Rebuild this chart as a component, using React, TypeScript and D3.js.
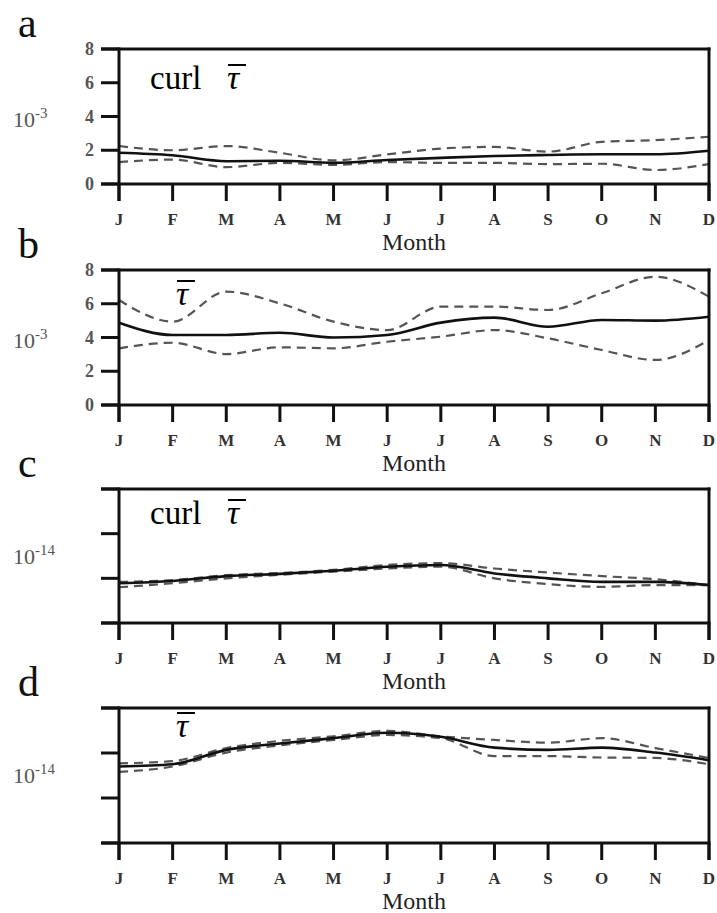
import React from "react";
import * as d3 from "d3";

const months = ["J", "F", "M", "A", "M", "J", "J", "A", "S", "O", "N", "D"];

// Panel a: curl tau, 10^-3
const aMean = [1.85, 1.7, 1.35, 1.38, 1.25, 1.42, 1.55, 1.66, 1.72, 1.76, 1.76, 1.97];
const aUpper = [2.25, 2.0, 2.25, 1.85, 1.4, 1.75, 2.1, 2.2, 1.92, 2.5, 2.6, 2.8];
const aLower = [1.3, 1.45, 1.0, 1.25, 1.13, 1.3, 1.25, 1.25, 1.18, 1.2, 0.83, 1.18];

// Panel b: tau, 10^-3
const bMean = [4.88, 4.15, 4.15, 4.28, 4.0, 4.15, 4.88, 5.18, 4.64, 5.04, 5.0, 5.23];
const bUpper = [6.22, 4.94, 6.72, 6.02, 4.94, 4.44, 5.83, 5.83, 5.63, 6.62, 7.6, 6.42];
const bLower = [3.36, 3.69, 3.02, 3.42, 3.36, 3.75, 4.05, 4.44, 3.95, 3.26, 2.67, 3.85];

// Panel c: curl tau, 10^-14 (relative units)
const cMean = [0.89, 0.94, 1.05, 1.1, 1.17, 1.26, 1.3, 1.11, 1.0, 0.92, 0.92, 0.85];
const cUpper = [0.92, 0.96, 1.07, 1.12, 1.19, 1.3, 1.34, 1.22, 1.13, 1.05, 0.98, 0.85];
const cLower = [0.8, 0.89, 1.0, 1.08, 1.15, 1.22, 1.26, 1.0, 0.87, 0.81, 0.85, 0.85];

// Panel d: tau, 10^-14 (relative units)
const dMean = [1.7, 1.75, 2.07, 2.21, 2.33, 2.45, 2.36, 2.12, 2.07, 2.12, 2.01, 1.84];
const dUpper = [1.77, 1.82, 2.11, 2.27, 2.37, 2.49, 2.37, 2.29, 2.23, 2.33, 2.11, 1.89];
const dLower = [1.58, 1.7, 2.01, 2.17, 2.29, 2.4, 2.33, 1.93, 1.93, 1.9, 1.89, 1.75];

const ticks3 = [0, 2, 4, 6, 8];
const tickLabels3 = ["0", "2", "4", "6", "8"];
const ticks14 = [0, 1, 2, 3];

const panels = [
  { letter: "a", top: 49, bottom: 184, domain: [0, 8], ticks: ticks3, labels: tickLabels3, exp: "-3", expTick: 4, curl: true, mean: aMean, upper: aUpper, lower: aLower, titleOff: 40 },
  { letter: "b", top: 270, bottom: 405, domain: [0, 8], ticks: ticks3, labels: tickLabels3, exp: "-3", expTick: 4, curl: false, mean: bMean, upper: bUpper, lower: bLower, titleOff: 35 },
  { letter: "c", top: 489, bottom: 623, domain: [0, 3], ticks: ticks14, labels: null, exp: "-14", expTick: 1.55, curl: true, mean: cMean, upper: cUpper, lower: cLower, titleOff: 35 },
  { letter: "d", top: 708, bottom: 843, domain: [0, 3], ticks: ticks14, labels: null, exp: "-14", expTick: 1.55, curl: false, mean: dMean, upper: dUpper, lower: dLower, titleOff: 29 },
];

const X0 = 119;
const X1 = 709;
const TICK_LEFT = 101;
const serif = "Liberation Serif, Times New Roman, serif";

function Panel({ p }: { p: any }) {
  const x = d3.scaleLinear().domain([0, months.length - 1]).range([X0, X1]);
  const y = d3.scaleLinear().domain(p.domain).range([p.bottom, p.top]);
  const line = d3
    .line<number>()
    .x((_, i) => x(i))
    .y((v) => y(v))
    .curve(d3.curveMonotoneX);
  const titleBase = p.top + p.titleOff;
  const tauX = p.curl ? 227 : 176;
  const expY = y(p.expTick) + 10;
  return (
    <g>
      <text x={18} y={p.top - 12} fontFamily={serif} fontSize={42} fill="#111">
        {p.letter}
      </text>
      {/* data lines */}
      <path d={line(p.upper) || ""} fill="none" stroke="#555" strokeWidth={2.2} strokeDasharray="9,6" />
      <path d={line(p.lower) || ""} fill="none" stroke="#555" strokeWidth={2.2} strokeDasharray="9,6" />
      <path d={line(p.mean) || ""} fill="none" stroke="#111" strokeWidth={2.6} />
      {/* frame */}
      <line x1={TICK_LEFT} x2={X1 + 1.5} y1={p.top} y2={p.top} stroke="#111" strokeWidth={3} />
      <line x1={TICK_LEFT} x2={X1 + 1.5} y1={p.bottom} y2={p.bottom} stroke="#111" strokeWidth={3} />
      <line x1={X0} x2={X0} y1={p.top - 1.5} y2={p.bottom + 17} stroke="#111" strokeWidth={3} />
      <line x1={X1} x2={X1} y1={p.top - 1.5} y2={p.bottom + 17} stroke="#111" strokeWidth={3} />
      {/* y ticks */}
      {p.ticks.map((t: number, i: number) => (
        <g key={"yt" + i}>
          <line x1={TICK_LEFT} x2={X0} y1={y(t)} y2={y(t)} stroke="#111" strokeWidth={3} />
          {p.labels && (
            <text x={94} y={y(t) + 6} textAnchor="end" fontFamily={serif} fontSize={18} fontWeight="bold" fill="#555">
              {p.labels[i]}
            </text>
          )}
        </g>
      ))}
      {/* x ticks */}
      {months.map((m, i) => (
        <g key={"xt" + i}>
          <line x1={x(i)} x2={x(i)} y1={p.bottom} y2={p.bottom + 17} stroke="#111" strokeWidth={3} />
          <text x={x(i)} y={p.bottom + 41} textAnchor="middle" fontFamily={serif} fontSize={17} fontWeight="bold" fill="#333">
            {m}
          </text>
        </g>
      ))}
      <text x={(X0 + X1) / 2} y={p.bottom + 66} textAnchor="middle" fontFamily={serif} fontSize={24} fill="#222">
        Month
      </text>
      {/* exponent label */}
      <text x={13} y={expY} fontFamily={serif} fontSize={22} fill="#555">
        10
        <tspan dy={-9} fontSize={15}>
          {p.exp}
        </tspan>
      </text>
      {/* title */}
      {p.curl && (
        <text x={150} y={titleBase} fontFamily={serif} fontSize={33} fill="#000">
          curl
        </text>
      )}
      <text x={tauX} y={titleBase} fontFamily={serif} fontSize={34} fontStyle="italic" fill="#000">
        τ
      </text>
      <line x1={tauX + 1} x2={tauX + 19} y1={titleBase - 24} y2={titleBase - 24} stroke="#000" strokeWidth={2} />
    </g>
  );
}

export default function App() {
  return (
    <div>
      <style>{`body{margin:0;background:#fff}`}</style>
      <svg width={717} height={913} style={{ display: "block", background: "#fff" }}>
        {panels.map((p) => (
          <Panel key={p.letter} p={p} />
        ))}
      </svg>
    </div>
  );
}
